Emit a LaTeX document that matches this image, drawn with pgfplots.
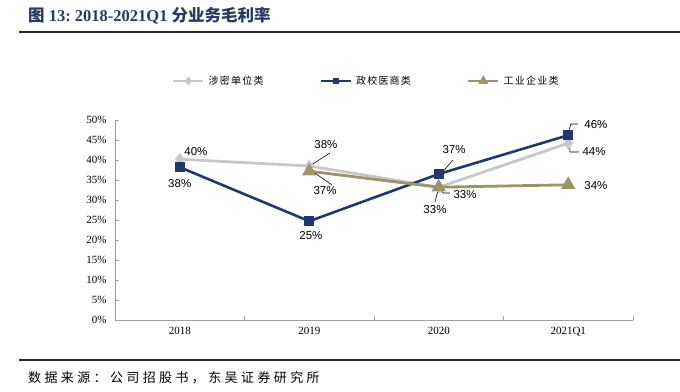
\documentclass[border=0pt]{standalone}
\usepackage{fontspec}
\usepackage{pgfplots}
\pgfplotsset{compat=1.18}
\setmainfont{Liberation Serif}
\newfontfamily\cjk{Noto Sans CJK SC}
\newfontfamily\cjkwide{Noto Sans CJK SC}[LetterSpace=12]
\newfontfamily\cjksrc{Noto Sans CJK SC}[LetterSpace=26]
\newfontfamily\arial{Liberation Sans}
\definecolor{cgray}{RGB}{200,200,200}
\definecolor{cnavy}{RGB}{31,56,110}
\definecolor{colive}{RGB}{156,148,98}
\definecolor{ctitle}{RGB}{36,60,95}
\definecolor{caxis}{RGB}{160,160,160}
\begin{document}
\begin{tikzpicture}[x=1pt,y=1pt]
\path[use as bounding box] (0,0) rectangle (680,-391);
\node[anchor=west, text=ctitle, inner sep=0pt, font=\fontsize{16.5}{18}\selectfont\bfseries] at (28,-16) {{\cjk\bfseries 图} 13:\ 2018-2021Q1 {\cjk\bfseries 分业务毛利率}};
\draw[line width=2pt, black!85] (19,-32) -- (680,-32);
\draw[line width=1.5pt, black!85] (19,-360) -- (680,-360);
\node[anchor=west, inner sep=0pt, font=\fontsize{13}{15}\selectfont\cjksrc] at (28,-378) {数据来源：公司招股书，东吴证券研究所};
\begin{axis}[
  at={(115pt,-320pt)}, anchor=south west,
  width=518pt, height=200pt, scale only axis,
  xmin=-0.5, xmax=3.5, ymin=0, ymax=50,
  axis x line=bottom, axis y line=left,
  axis line style={caxis, -, line width=0.8pt},
  xtick={0,1,2,3}, xticklabels={2018,2019,2020,2021Q1},
  xtick style={draw=none},
  extra x ticks={0.5,1.5,2.5,3.5}, extra x tick labels={},
  extra x tick style={xtick style={draw=caxis, line width=0.6pt}, major tick length=4pt, tick align=inside},
  ytick={0,5,...,50},
  yticklabel={\pgfmathprintnumber{\tick}\%},
  ytick style={draw=caxis, line width=0.6pt},
  tick align=inside, major tick length=4pt,
  /pgf/number format/assume math mode=true,
  yticklabel style={font=\fontsize{11}{12}\selectfont, xshift=-5pt},
  xticklabel style={font=\fontsize{11}{12}\selectfont, yshift=-4pt},
  clip=false,
  legend columns=3,
  legend style={at={(0.485,1.195)}, anchor=center, draw=none, fill=none,
    font=\fontsize{10}{12}\selectfont\cjkwide,
    /tikz/every odd column/.append style={column sep=2pt},
    /tikz/every even column/.append style={column sep=54pt}},
  legend image code/.code={\draw[mark repeat=2,mark phase=2, mark options={scale=0.55}] plot coordinates {(0pt,0pt) (15pt,0pt) (30pt,0pt)};},
]
\addplot[cgray, line width=2.8pt, mark=diamond*, mark size=4pt] coordinates {(0,40.2)(1,38.5)(2,33.2)(3,44.2)};
\addlegendentry{涉密单位类}
\addplot[cnavy, line width=2.6pt, mark=square*, mark size=3.5pt] coordinates {(0,38.2)(1,24.7)(2,36.5)(3,46.2)};
\addlegendentry{政校医商类}
\addplot[colive, line width=2.8pt, mark=triangle*, mark size=5.5pt] coordinates {(1,37.2)(2,33.2)(3,33.8)};
\addlegendentry{工业企业类}
\begin{scope}[every node/.style={font=\fontsize{11.5}{13}\selectfont\arial, inner sep=0pt}]
\node at (axis cs:0.125,42) {40\%};
\node at (axis cs:0,34) {38\%};
\node at (axis cs:1.129,43.75) {38\%};
\node at (axis cs:1.122,32.25) {37\%};
\node at (axis cs:1.013,21) {25\%};
\node at (axis cs:2.118,42.5) {37\%};
\node at (axis cs:2.203,31.25) {33\%};
\node at (axis cs:1.971,27.5) {33\%};
\node at (axis cs:3.214,48.75) {46\%};
\node at (axis cs:3.199,42) {44\%};
\node at (axis cs:3.214,33.5) {34\%};
\end{scope}
\begin{scope}[black, line width=0.6pt]
\draw (axis cs:1.015,38.75) -- (axis cs:1.160,41.75);
\draw (axis cs:0.998,37.75) -- (axis cs:1.176,33.75);
\draw (axis cs:2.002,36) -- (axis cs:2.110,40);
\draw (axis cs:2.002,33.25) -- (axis cs:2.033,31.75) -- (axis cs:2.087,31.75);
\draw (axis cs:2.002,33.5) -- (axis cs:1.971,29.5);
\draw (axis cs:2.998,46.75) -- (axis cs:3.021,49) -- (axis cs:3.075,49);
\draw (axis cs:3.006,44.75) -- (axis cs:3.014,42) -- (axis cs:3.083,42);
\end{scope}
\end{axis}
\end{tikzpicture}
\end{document}
